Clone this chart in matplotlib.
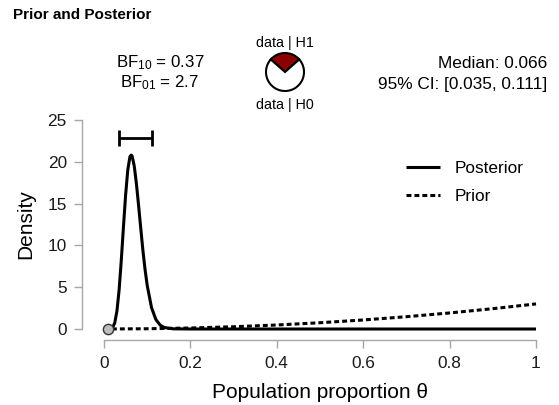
import matplotlib
matplotlib.use("Agg")
from matplotlib import pyplot as plt

plt.rcParams['font.family'] = ['Liberation Sans', 'DejaVu Sans']
plt.rcParams['mathtext.fontset'] = 'custom'
plt.rcParams['mathtext.rm'] = 'Liberation Sans'
plt.rcParams['mathtext.it'] = 'Liberation Sans:italic'

# posterior density
theta_post = [0.0, 0.015, 0.02, 0.025, 0.03, 0.035, 0.04, 0.045, 0.05, 0.055,
              0.06, 0.063, 0.065, 0.07, 0.075, 0.08, 0.085, 0.09, 0.095, 0.10,
              0.11, 0.12, 0.13, 0.14, 0.16, 0.20, 1.0]
dens_post = [0.0, 0.02, 0.17, 0.75, 2.17, 4.68, 8.2, 12.2, 16.0, 19.0,
             20.6, 20.8, 20.7, 19.5, 17.4, 14.8, 12.1, 9.43, 7.13, 5.22,
             2.56, 1.14, 0.46, 0.17, 0.02, 0.0, 0.0]

# prior density
theta_prior = [0.0, 0.1, 0.2, 0.3, 0.4, 0.5, 0.6, 0.7, 0.8, 0.9, 1.0]
dens_prior = [0.0, 0.03, 0.12, 0.27, 0.48, 0.75, 1.08, 1.47, 1.92, 2.43, 3.0]

ci_low, ci_high = 0.035, 0.111
ci_height = 22.8
median = 0.066
test_value = 0.01
bf10 = 0.37
bf01 = 2.7
pie_share = [0.27, 0.73]  # data|H1, data|H0

xticks = [0, 0.2, 0.4, 0.6, 0.8, 1]
xticklabels = ['0', '0.2', '0.4', '0.6', '0.8', '1']
yticks = [0, 5, 10, 15, 20, 25]

W, H = 559, 405
fig = plt.figure(figsize=(W / 100, H / 100), dpi=100)

def fx(px):
    return px / W

def fy(py):
    return 1 - py / H

ax = fig.add_axes([fx(104), fy(329), 432 / W, 209 / H])
ax.set_xlim(0, 1)
ax.set_ylim(0, 25)

post_line, = ax.plot(theta_post, dens_post, color='black', lw=2.2, clip_on=False,
                     solid_capstyle='butt', zorder=3)
prior_line, = ax.plot(theta_prior, dens_prior, color='black', lw=2.2,
                      linestyle=(0, (1.6, 1.0)), clip_on=False, zorder=2)
ax.plot([test_value], [0], 'o', ms=7.4, mfc='#bdbdbd', mec='#333333', mew=1.0,
        clip_on=False, zorder=4)
ax.errorbar([(ci_low + ci_high) / 2], [ci_height], xerr=[(ci_high - ci_low) / 2],
            fmt='none', ecolor='black', elinewidth=2, capsize=6, capthick=2,
            clip_on=False)

axis_grey = '#a6a6a6'
for s in ['top', 'right']:
    ax.spines[s].set_visible(False)
ax.spines['bottom'].set_position(('outward', 8))
ax.spines['left'].set_position(('outward', 16))
ax.spines['bottom'].set_bounds(0, 1)
ax.spines['left'].set_bounds(0, 25)
for s in ['bottom', 'left']:
    ax.spines[s].set_color(axis_grey)
    ax.spines[s].set_linewidth(1.0)

ax.set_xticks(xticks)
ax.set_xticklabels(xticklabels)
ax.set_yticks(yticks)
ax.tick_params(axis='x', length=5.8, width=1.0, color=axis_grey, pad=6,
               labelsize=12.4, labelcolor='#1a1a1a')
ax.tick_params(axis='y', length=5.8, width=1.0, color=axis_grey, pad=5,
               labelsize=12.4, labelcolor='#1a1a1a')

ax.set_xlabel('Population proportion θ', fontsize=15, va='center')
ax.xaxis.set_label_coords(0.5, (329 - 393) / 209)
ax.set_ylabel('Density', fontsize=15, va='center')
ax.yaxis.set_label_coords((26 - 104) / 432, 0.5)

ax.legend([post_line, prior_line], ['Posterior', 'Prior'], loc='upper left',
          bbox_to_anchor=(fx(406), fy(161)), bbox_transform=fig.transFigure,
          frameon=False, fontsize=12.4, handlelength=2.0, handletextpad=0.8,
          labelspacing=0.75, borderpad=0, borderaxespad=0)

fig.text(fx(13), fy(15), 'Prior and Posterior', fontsize=11, fontweight='bold',
         ha='left', va='center')

fig.text(fx(160), fy(63), r'BF$_{10}$ = %.2f' % bf10, fontsize=12.2,
         ha='center', va='center')
fig.text(fx(160), fy(83), r'BF$_{01}$ = %.1f' % bf01, fontsize=12.2,
         ha='center', va='center')
fig.text(fx(547), fy(63), 'Median: %.3f' % median, fontsize=12.4,
         ha='right', va='center')
fig.text(fx(547), fy(84), '95%% CI: [%.3f, %.3f]' % (ci_low, ci_high),
         fontsize=12.4, ha='right', va='center')

# pie of data|H1 vs data|H0
pie_ax = fig.add_axes([fx(266), fy(91), 38 / W, 38 / H])
pie_ax.pie(pie_share, colors=['#8b0000', 'white'],
           startangle=90 - pie_share[0] * 360 / 2, counterclock=True,
           wedgeprops=dict(edgecolor='black', linewidth=1.5, clip_on=False))
pie_ax.set_xlim(-1, 1)
pie_ax.set_ylim(-1, 1)
pie_ax.set_aspect('equal')
fig.text(fx(285), fy(43), 'data | H1', fontsize=10.3, ha='center', va='center')
fig.text(fx(285), fy(105), 'data | H0', fontsize=10.3, ha='center', va='center')

fig.savefig('out.png', dpi=100)
